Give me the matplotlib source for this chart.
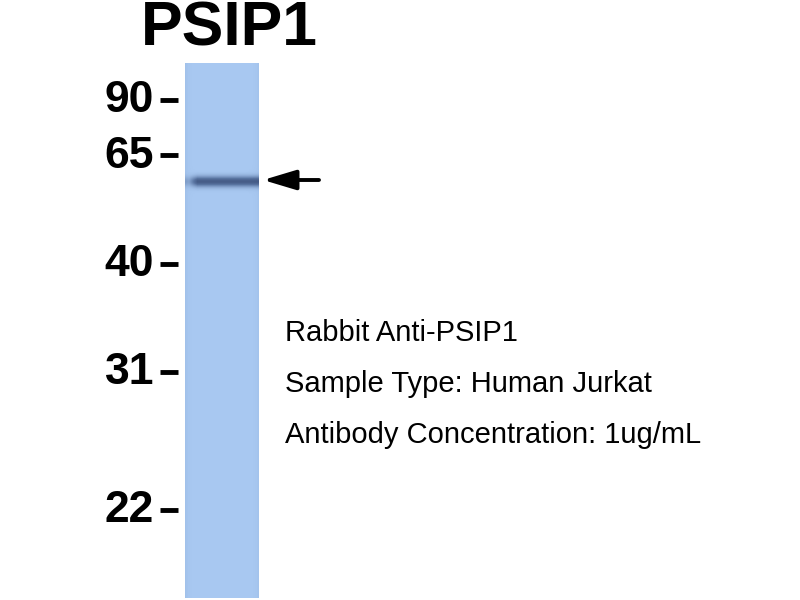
import numpy as np
import matplotlib
matplotlib.use("Agg")
import matplotlib.pyplot as plt
from matplotlib.colors import LinearSegmentedColormap

# marker ladder (kDa) and where each ran on the gel (px from top of image)
marker_kda = ["90", "65", "40", "31", "22"]
marker_pos = [100, 155, 264, 372, 510]

# detected bands: position and relative strength
band_pos = [181]
band_strength = [0.7]

title = "PSIP1"
notes = ["Rabbit Anti-PSIP1",
         "Sample Type: Human Jurkat",
         "Antibody Concentration: 1ug/mL"]

plt.rcParams['font.family'] = ['Liberation Sans', 'DejaVu Sans']

fig = plt.figure(figsize=(8, 6), dpi=100)
ax = fig.add_axes([0, 0, 1, 1])
ax.set_xlim(0, 800)
ax.set_ylim(600, 0)
ax.axis("off")

# lane image
lane_x0, lane_x1 = 185, 259
lane_y0, lane_y1 = 63, 598
rows = np.arange(lane_y0, lane_y1)
cols = np.arange(lane_x0, lane_x1)
dens = np.zeros((len(rows), len(cols)))
for p, s in zip(band_pos, band_strength):
    prof = np.exp(-0.5 * ((rows - p) / 3.6) ** 2)
    xfade = np.clip((cols - lane_x0) / 12.0, 0.3, 1.0)
    dens += s * prof[:, None] * xfade[None, :]
# slightly darker toward lane edges
edge = np.minimum(cols - lane_x0, lane_x1 - cols)
dens += 0.04 * np.exp(-edge / 3.0)[None, :]
dens = np.clip(dens, 0, 1)
cmap = LinearSegmentedColormap.from_list("wb", ["#a8c8f1", "#5873a0", "#2c3e66"])
ax.imshow(dens, cmap=cmap, vmin=0, vmax=1, aspect="auto",
          extent=(lane_x0, lane_x1, lane_y1, lane_y0), interpolation="bilinear")

# marker labels and dashes
for lab, y in zip(marker_kda, marker_pos):
    ax.text(154, y + 1, lab, fontsize=32, fontweight="bold", ha="right", va="center")
    ax.plot([160, 178], [y, y], color="black", lw=3.5, solid_capstyle="butt")

ax.text(229, 29, title, fontsize=45, fontweight="bold", ha="center", va="center")

# arrow at band
ax.annotate("", xy=(263, band_pos[0] - 1), xytext=(319, band_pos[0] - 1),
            arrowprops=dict(arrowstyle="-|>,head_length=2.0,head_width=0.6",
                            color="black", lw=2.8, shrinkA=0, shrinkB=0))

for i, t in enumerate(notes):
    ax.text(285, 333 + i * 51, t, fontsize=21, ha="left", va="center")

fig.savefig("out.png", dpi=100, facecolor="white")
